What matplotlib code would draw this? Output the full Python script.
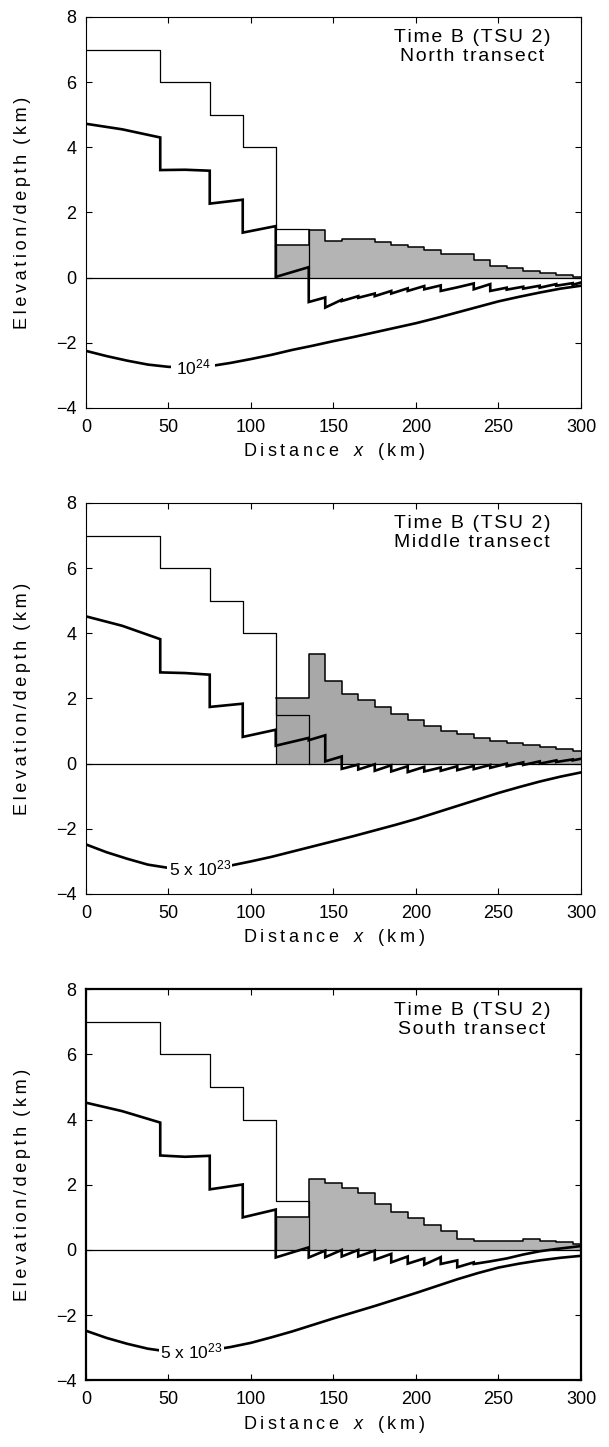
import matplotlib
matplotlib.use("Agg")
import matplotlib.pyplot as plt
import numpy as np

plt.rcParams["font.family"] = ["Liberation Sans", "DejaVu Sans"]
plt.rcParams["mathtext.fontset"] = "custom"
plt.rcParams["mathtext.rm"] = "Liberation Sans"
plt.rcParams["mathtext.it"] = "Liberation Sans:italic"

# panel texts
transects = ["North transect", "Middle transect", "South transect"]
flex_labels = [r"$10^{24}$", r"5 x $10^{23}$", r"5 x $10^{23}$"]
flex_label_x = [65, 69, 64]
flex_label_pad = [3.5, 1.0, 1.0]

# thin step line (same in every panel)
step_x = [0, 45, 75, 95, 115, 135]
step_top = [7, 6, 5, 4, 1.5]

# segment edges for the thick (basement) line
seg_x = [0, 22, 45, 60, 75, 95, 115, 135, 145, 155, 165, 175, 185, 195,
         205, 215, 225, 235, 245, 255, 265, 275, 285, 295, 300]

# start / end value of the thick line in each segment
north_lo = [4.72, 4.55, 3.30, 3.31, 2.27, 1.38, 0.02, -0.75, -0.92, -0.72,
            -0.62, -0.57, -0.49, -0.41, -0.36, -0.41, -0.30, -0.36, -0.41,
            -0.37, -0.34, -0.31, -0.25, -0.22]
north_hi = [4.55, 4.30, 3.31, 3.28, 2.39, 1.58, 0.32, -0.61, -0.68, -0.57,
            -0.49, -0.41, -0.33, -0.26, -0.24, -0.30, -0.18, -0.20, -0.31,
            -0.28, -0.25, -0.20, -0.17, -0.15]
middle_lo = [4.52, 4.23, 2.80, 2.78, 1.74, 0.82, 0.55, 0.72, 0.07, -0.16,
             -0.18, -0.22, -0.24, -0.26, -0.24, -0.22, -0.20, -0.17, -0.13,
             -0.08, -0.04, 0.00, 0.05, 0.10]
middle_hi = [4.23, 3.82, 2.78, 2.73, 1.84, 1.04, 0.79, 0.87, 0.22, -0.03,
             -0.02, -0.05, -0.08, -0.10, -0.12, -0.08, -0.07, -0.04, 0.00,
             0.04, 0.07, 0.10, 0.13, 0.15]
south_lo = [4.52, 4.26, 2.90, 2.86, 1.86, 1.00, -0.23, -0.23, -0.22, -0.20,
            -0.20, -0.30, -0.38, -0.42, -0.45, -0.43, -0.53, -0.43, -0.35,
            -0.26, -0.14, -0.04, 0.03, 0.09]
south_hi = [4.26, 3.91, 2.86, 2.89, 2.01, 1.24, 0.08, -0.02, 0.00, 0.00,
            -0.02, -0.12, -0.20, -0.26, -0.22, -0.32, -0.38, -0.35, -0.26,
            -0.14, -0.04, 0.03, 0.09, 0.12]

# top of the grey unit, from x = 115 km
fill_x = seg_x[6:]
north_fill = [1.0, 1.45, 1.12, 1.18, 1.18, 1.10, 1.00, 0.94, 0.84, 0.72,
              0.72, 0.53, 0.36, 0.29, 0.20, 0.15, 0.08, 0.03]
middle_fill = [2.0, 3.37, 2.55, 2.15, 1.96, 1.73, 1.53, 1.33, 1.15, 1.01,
               0.91, 0.79, 0.68, 0.63, 0.56, 0.51, 0.45, 0.38]
south_fill = [1.0, 2.18, 2.05, 1.90, 1.74, 1.42, 1.18, 0.98, 0.78, 0.58,
              0.34, 0.27, 0.27, 0.28, 0.33, 0.29, 0.24, 0.18]

# flexure curves
flex_x = [0, 12.5, 25, 37.5, 50, 62.5, 75, 87.5, 100, 112.5, 125, 137.5,
          150, 162.5, 175, 187.5, 200, 212.5, 225, 237.5, 250, 262.5, 275,
          287.5, 300]
north_flex = [-2.25, -2.41, -2.55, -2.67, -2.74, -2.75, -2.72, -2.62,
              -2.50, -2.37, -2.22, -2.09, -1.95, -1.82, -1.68, -1.54,
              -1.40, -1.24, -1.07, -0.90, -0.73, -0.59, -0.46, -0.34, -0.25]
middle_flex = [-2.48, -2.72, -2.92, -3.10, -3.20, -3.24, -3.22, -3.13,
               -3.00, -2.86, -2.70, -2.54, -2.38, -2.22, -2.05, -1.88,
               -1.70, -1.50, -1.30, -1.10, -0.90, -0.72, -0.55, -0.40, -0.27]
south_flex = [-2.48, -2.70, -2.88, -3.03, -3.12, -3.13, -3.08, -2.98,
              -2.85, -2.68, -2.50, -2.30, -2.10, -1.91, -1.72, -1.52,
              -1.32, -1.11, -0.90, -0.71, -0.54, -0.42, -0.32, -0.24, -0.18]

base_lo = [north_lo, middle_lo, south_lo]
base_hi = [north_hi, middle_hi, south_hi]
fills = [north_fill, middle_fill, south_fill]
flexes = [north_flex, middle_flex, south_flex]
greys = ["#b4b4b4", "#a8a8a8", "#b4b4b4"]


def track(s, sp="\u2009"):
    # the original lettering is loosely spaced
    return sp.join(s)


xlab = track("Distance") + "   $x$   " + track("(km)")
ylab = track("Elevation/depth") + "  " + track("(km)")

fig = plt.figure(figsize=(6.09, 14.47), dpi=100)
tops = [0.9883, 0.6524, 0.3163]
for i in range(3):
    ax = fig.add_axes([0.1412, tops[i] - 0.2702, 0.8128, 0.2702])

    top = np.r_[fills[i], fills[i][-1]]
    ax.fill_between(fill_x, 0, top, step="post", color=greys[i], lw=0)
    ax.step(fill_x, top, where="post", color="k", lw=1.1)
    ax.vlines(fill_x[0], 0, top[0], color="k", lw=0.9)

    ax.axhline(0, color="k", lw=0.9)
    ax.step(step_x + [135], step_top + [step_top[-1], 0], where="post",
            color="k", lw=0.9)

    bx = np.repeat(seg_x, 2)[1:-1]
    by = np.column_stack([base_lo[i], base_hi[i]]).ravel()
    ax.plot(bx, by, color="k", lw=1.9, solid_joinstyle="miter")

    ax.plot(flex_x, flexes[i], color="k", lw=1.9)
    fy = np.interp(flex_label_x[i], flex_x, flexes[i])
    ax.text(flex_label_x[i], fy, flex_labels[i], ha="center", va="center",
            fontsize=12.5,
            bbox=dict(fc="white", ec="none", pad=flex_label_pad[i]))

    title = track("Time B (TSU 2)", "\u200a") + "\n" + \
        track(transects[i], "\u200a")
    ax.text(0.78, 0.968, title, transform=ax.transAxes, ha="center",
            va="top", fontsize=14, linespacing=1.15)

    ax.set_xlim(0, 300)
    ax.set_ylim(-4, 8)
    ax.set_xticks([0, 50, 100, 150, 200, 250, 300])
    ax.set_yticks([-4, -2, 0, 2, 4, 6, 8])
    ax.tick_params(direction="in", top=True, right=True, length=4,
                   labelsize=13)
    ax.tick_params(axis="x", pad=8)
    ax.tick_params(axis="y", pad=7)
    ax.set_xlabel(xlab, fontsize=13)
    ax.set_ylabel(ylab, fontsize=13)
    ax.xaxis.set_label_coords(0.5, -0.085)
    ax.yaxis.set_label_coords(-0.112, 0.5)
    sw = 1.6 if i == 2 else 0.8
    for s in ax.spines.values():
        s.set_linewidth(sw)

fig.savefig("out.png", dpi=100)
